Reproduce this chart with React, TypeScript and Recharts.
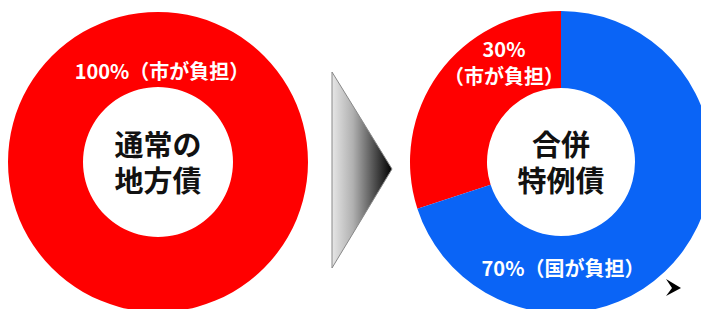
import React from 'react';
import { PieChart, Pie, Cell } from 'recharts';

// 通常の地方債: all paid by the city
const normalShares = [{ name: '市が負担', value: 100 }];
const normalLabels = [['100%（市が負担）']];
const normalTitle = ['通常の', '地方債'];

// 合併特例債: 30% city, 70% national
const mergerShares = [
  { name: '市が負担', value: 30 },
  { name: '国が負担', value: 70 },
];
const mergerLabels = [['30%', '（市が負担）'], ['70%（国が負担）']];
const mergerTitle = ['合併', '特例債'];

const RED = '#ff0000';
const BLUE = '#0a64f6';
const FONT = '"Noto Sans CJK JP", "Noto Sans", sans-serif';

const makeLabel =
  (lines: string[][], offsets: { dx: number; dy: number }[], title: string[]) => (props: any) => {
    const { cx, cy, index } = props;
    const o = offsets[index];
    const ls = lines[index];
    return (
      <g key={index}>
        {ls.map((l, i) => (
          <text
            key={i}
            x={cx + o.dx}
            y={cy + o.dy + i * 27}
            textAnchor="middle"
            dominantBaseline="central"
            fill="#fff"
            fontSize={20}
            fontWeight={700}
            fontFamily={FONT}
          >
            {l}
          </text>
        ))}
        {index === 0 &&
          title.map((t, i) => (
            <text
              key={'t' + i}
              x={cx}
              y={cy - 19 + i * 36}
              textAnchor="middle"
              dominantBaseline="central"
              fill="#111"
              fontSize={29}
              fontWeight={700}
              fontFamily={FONT}
            >
              {t}
            </text>
          ))}
      </g>
    );
  };

export default function App() {
  return (
    <div style={{ position: 'absolute', left: 0, top: 0, width: 701, height: 309, background: '#fff' }}>
      <PieChart width={701} height={309} margin={{ top: 0, right: 0, bottom: 0, left: 0 }}>
        <Pie
          data={normalShares}
          dataKey="value"
          cx={158}
          cy={162}
          innerRadius={75}
          outerRadius={150}
          startAngle={90}
          endAngle={450}
          stroke="none"
          labelLine={false}
          label={makeLabel(normalLabels, [{ dx: 4, dy: -92 }], normalTitle)}
          isAnimationActive={false}
        >
          <Cell fill={RED} />
        </Pie>
        <Pie
          data={mergerShares}
          dataKey="value"
          cx={561}
          cy={162}
          innerRadius={74}
          outerRadius={151}
          startAngle={90}
          endAngle={450}
          stroke="none"
          labelLine={false}
          label={makeLabel(mergerLabels, [{ dx: -57, dy: -114 }, { dx: 2, dy: 105 }], mergerTitle)}
          isAnimationActive={false}
        >
          <Cell fill={RED} />
          <Cell fill={BLUE} />
        </Pie>
      </PieChart>
      <svg width={701} height={309} style={{ position: 'absolute', left: 0, top: 0, pointerEvents: 'none' }}>
        <defs>
          <linearGradient id="arrowGrad" x1="0" y1="0" x2="1" y2="0">
            <stop offset="0%" stopColor="#e6e6e6" />
            <stop offset="35%" stopColor="#b0b0b0" />
            <stop offset="100%" stopColor="#000" />
          </linearGradient>
        </defs>
        <polygon points="332,72 392,169 332,268" fill="url(#arrowGrad)" stroke="#888" strokeWidth={1} />
        <polygon points="666,279 681,288 666,296 672,288" fill="#000" />
      </svg>
    </div>
  );
}
